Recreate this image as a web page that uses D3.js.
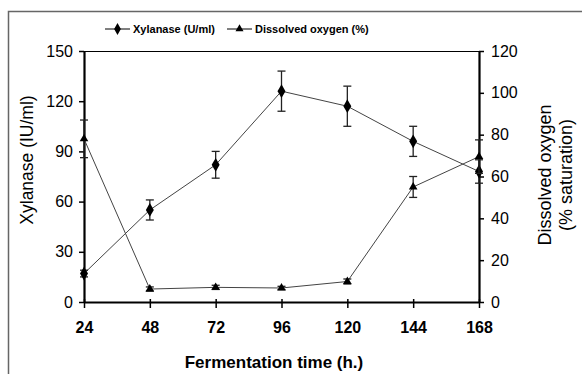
<!DOCTYPE html>
<html>
<head>
<meta charset="utf-8">
<script src="https://cdn.jsdelivr.net/npm/d3@7"></script>
<style>
  body { margin: 0; background: #fff; }
  svg { font-family: "Liberation Sans", Arial, sans-serif; }
</style>
</head>
<body>
<svg width="582" height="374"></svg>
<script>
// fermentation time (h)
const hours = [24, 48, 72, 96, 120, 144, 168]
// xylanase activity (IU/ml) and its error
const xylanase = [17, 55, 82, 126, 117, 96, 78]
const xylanaseErr = [2, 6, 8, 12, 12, 9, 7]
// dissolved oxygen (% saturation) and its error
const oxygen = [78, 6.2, 7, 6.7, 9.8, 55, 69.5]
const oxygenErr = [9, 1, 1, 0.8, 1.2, 5, 8]

const leftTicks = [0, 30, 60, 90, 120, 150]
const rightTicks = [0, 20, 40, 60, 80, 100, 120]

const svg = d3.select("svg")
const margin = { top: 51, right: 103, bottom: 72, left: 84 }
const width = 582 - margin.left - margin.right
const height = 374 - margin.top - margin.bottom

// outer frame (cut off at right and bottom)
svg.append("path")
  .attr("d", "M8.5,380 V11.5 H590")
  .attr("fill", "none")
  .attr("stroke", "#666")
  .attr("stroke-width", 1.5)

const g = svg.append("g")
  .attr("transform", `translate(${margin.left},${margin.top})`)

const x = d3.scaleLinear().domain([24, 168]).range([0, width])
const yL = d3.scaleLinear().domain([0, 150]).range([height, 0])
const yR = d3.scaleLinear().domain([0, 120]).range([height, 0])

// top border line of plot
g.append("line")
  .attr("x1", 0).attr("x2", width)
  .attr("y1", 0.5).attr("y2", 0.5)
  .attr("stroke", "#000").attr("stroke-width", 1.2)

// axes
const xAxis = g.append("g")
  .attr("transform", `translate(0,${height})`)
  .call(d3.axisBottom(x).tickValues(hours).tickSizeInner(6).tickSizeOuter(0).tickPadding(14))
xAxis.select(".domain").attr("stroke-width", 2.2)
xAxis.selectAll(".tick line").attr("y1", -3).attr("stroke-width", 1.5)
xAxis.selectAll("text").attr("font-size", 16).attr("font-weight", "bold").attr("fill", "#000")

const leftAxis = g.append("g")
  .call(d3.axisLeft(yL).tickValues(leftTicks).tickSizeInner(5).tickSizeOuter(0).tickPadding(6))
leftAxis.select(".domain").attr("stroke-width", 2.2)
leftAxis.selectAll(".tick line").attr("stroke-width", 1.5)
leftAxis.selectAll("text").attr("font-size", 16).attr("fill", "#000")

const rightAxis = g.append("g")
  .attr("transform", `translate(${width},0)`)
  .call(d3.axisRight(yR).tickValues(rightTicks).tickSizeInner(5).tickSizeOuter(0).tickPadding(7))
rightAxis.select(".domain").attr("stroke-width", 2.2)
rightAxis.selectAll(".tick line").attr("stroke-width", 1.5)
rightAxis.selectAll("text").attr("font-size", 16).attr("fill", "#000")

// axis titles
svg.append("text")
  .attr("transform", "translate(33,160) rotate(-90)")
  .attr("text-anchor", "middle")
  .attr("font-size", 17.5)
  .text("Xylanase (IU/ml)")

const rt = svg.append("text")
  .attr("transform", "translate(551,175) rotate(-90)")
  .attr("text-anchor", "middle")
  .attr("font-size", 18)
rt.append("tspan").attr("x", 0).attr("dy", 0).text("Dissolved oxygen")
rt.append("tspan").attr("x", 0).attr("dy", 21).text("(% saturation)")

svg.append("text")
  .attr("x", 274).attr("y", 368)
  .attr("text-anchor", "middle")
  .attr("font-size", 17)
  .attr("font-weight", "bold")
  .text("Fermentation time (h.)")

// series
const series = [
  { values: xylanase, err: xylanaseErr, y: yL, shape: d3.symbolDiamond, size: 55 },
  { values: oxygen, err: oxygenErr, y: yR, shape: d3.symbolTriangle, size: 32 },
]

series.forEach((s) => {
  const pts = hours.map((h, i) => ({ h, v: s.values[i], e: s.err[i] }))
  const line = d3.line().x((d) => x(d.h)).y((d) => s.y(d.v))
  g.append("path")
    .datum(pts)
    .attr("d", line)
    .attr("fill", "none")
    .attr("stroke", "#444")
    .attr("stroke-width", 1)

  const eb = g.append("g").selectAll("g").data(pts).join("g")
  eb.append("line")
    .attr("x1", (d) => x(d.h)).attr("x2", (d) => x(d.h))
    .attr("y1", (d) => s.y(d.v - d.e)).attr("y2", (d) => s.y(d.v + d.e))
    .attr("stroke", "#222").attr("stroke-width", 1.3)
  ;[-1, 1].forEach((sign) => {
    eb.append("line")
      .attr("x1", (d) => x(d.h) - 4).attr("x2", (d) => x(d.h) + 4)
      .attr("y1", (d) => s.y(d.v + sign * d.e)).attr("y2", (d) => s.y(d.v + sign * d.e))
      .attr("stroke", "#222").attr("stroke-width", 1.3)
  })

  g.append("g").selectAll("path").data(pts).join("path")
    .attr("transform", (d) => `translate(${x(d.h)},${s.y(d.v)})`)
    .attr("d", d3.symbol().type(s.shape).size(s.size))
    .attr("fill", "#000")
})

// legend
const legend = svg.append("g").attr("font-size", 11).attr("font-weight", "bold")
const legendItems = [
  { label: "Xylanase (U/ml)", shape: d3.symbolDiamond, size: 40, x: 105 },
  { label: "Dissolved oxygen (%)", shape: d3.symbolTriangle, size: 28, x: 227 },
]
legendItems.forEach((l) => {
  const lg = legend.append("g").attr("transform", `translate(${l.x},29)`)
  lg.append("line").attr("x1", 0).attr("x2", 25).attr("stroke", "#000").attr("stroke-width", 1)
  lg.append("path").attr("transform", "translate(12.5,0)")
    .attr("d", d3.symbol().type(l.shape).size(l.size)).attr("fill", "#000")
  lg.append("text").attr("x", 28).attr("y", 4).text(l.label)
})
</script>
</body>
</html>
